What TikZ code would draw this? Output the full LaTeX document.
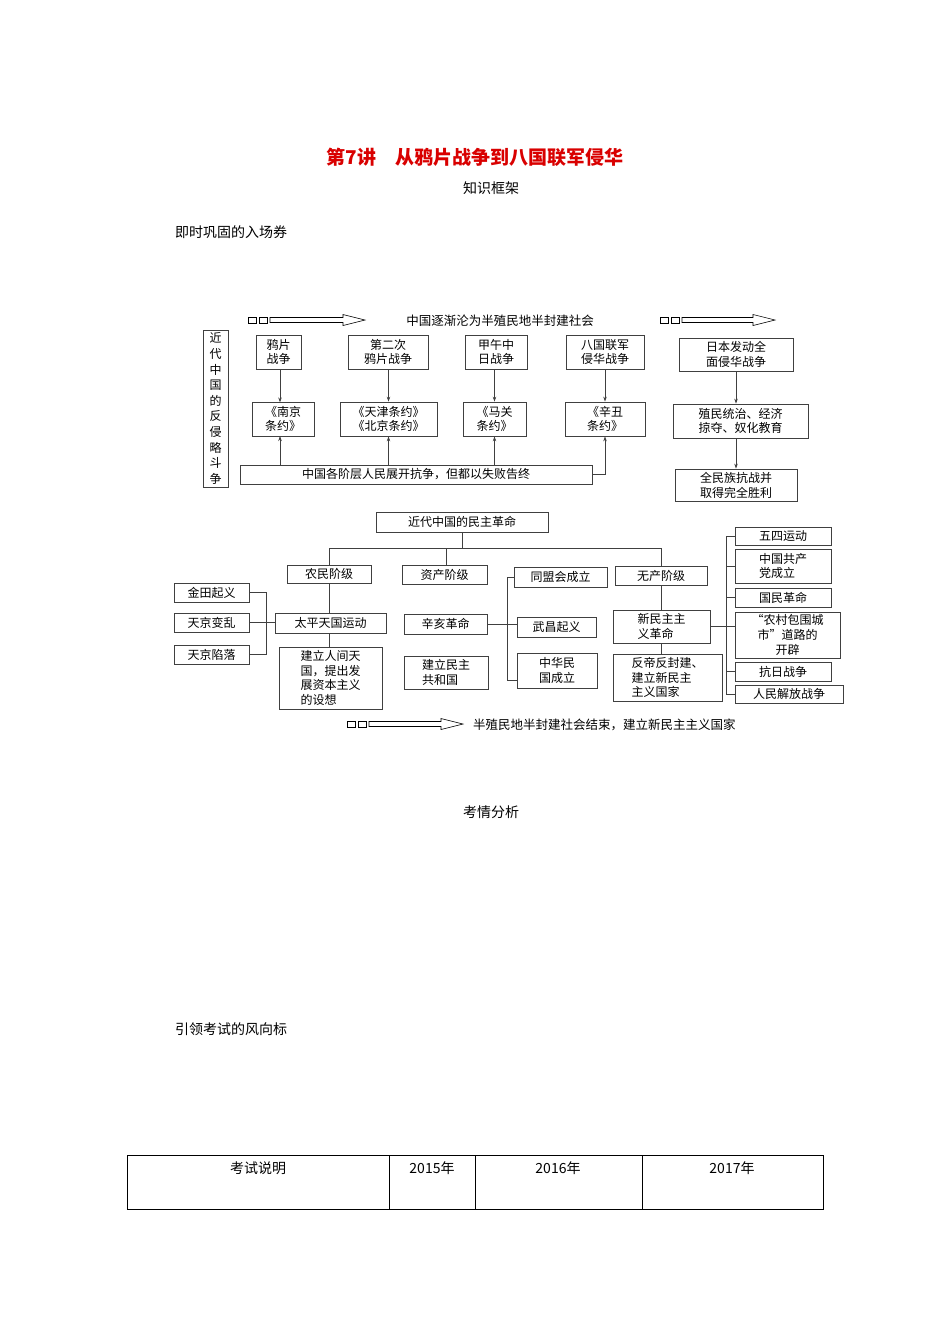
\documentclass[tikz,border=0pt]{standalone}
\usepackage{fontspec}
\setmainfont{Noto Sans CJK SC}
\usetikzlibrary{arrows.meta}
\tikzset{bx/.style={draw=black!75,line width=0.8pt,inner sep=1pt,align=center,font=\fontsize{12}{14.8}\selectfont},
lk/.style={draw=black!75,line width=0.7pt},
ar/.style={lk,-{Stealth[length=5pt,width=3.5pt]}},
tx/.style={inner sep=0pt,font=\fontsize{12.5}{14}\selectfont}}
\newcommand\bx[7][]{\node[bx,minimum width={(#4-#2)*1pt},minimum height={(#5-#3)*1pt},#1] (#6) at ({(#2+#4)/2},{(#3+#5)/2}) {#7};}
\newcommand\harrow[3]{%
\draw[line width=0.6pt] (#1,#3-3) rectangle (#1+8,#3+3);
\draw[line width=0.6pt] (#1+11,#3-3) rectangle (#1+19,#3+3);
\draw[line width=0.6pt] (#1+22,#3-2.5) -- (#2-22,#3-2.5) -- (#2-22,#3-5.5) -- (#2,#3) -- (#2-22,#3+5.5) -- (#2-22,#3+2.5) -- (#1+22,#3+2.5) -- cycle;}
\begin{document}
\begin{tikzpicture}[x=1pt,y=-1pt]
\useasboundingbox[fill=white] (0,0) rectangle (950,1344);
\node[font=\fontsize{19}{22}\selectfont\bfseries,text=red!85!black] (title) at (475,157) {第7讲　从鸦片战争到八国联军侵华};
\node[tx,font=\fontsize{14}{16}\selectfont] (k1) at (491,188) {知识框架};
\node[tx,anchor=west,font=\fontsize{14}{16}\selectfont] (k2) at (175,232) {即时巩固的入场券};
\node[tx,font=\fontsize{14}{16}\selectfont] (k3) at (491,812) {考情分析};
\node[tx,anchor=west,font=\fontsize{14}{16}\selectfont] (k4) at (175,1029) {引领考试的风向标};
% top diagram
\harrow{248}{365}{320}
\harrow{660}{775}{320}
\node[tx] (t1) at (500,321) {中国逐渐沦为半殖民地半封建社会};
\bx[font=\fontsize{12}{15.6}\selectfont]{203}{330}{228}{487}{left}{近\\代\\中\\国\\的\\反\\侵\\略\\斗\\争}
\bx{256}{335}{301}{369}{yp}{鸦片\\战争}
\bx{348}{335}{428}{369}{ey}{第二次\\鸦片战争}
\bx{465}{335}{527}{369}{jw}{甲午中\\日战争}
\bx{566}{335}{644}{369}{bg}{八国联军\\侵华战争}
\bx{679}{338}{793}{371}{jp}{日本发动全\\面侵华战争}
\bx{252}{402}{314}{436}{nj}{《南京\\条约》}
\bx{340}{402}{437}{436}{tj}{《天津条约》\\《北京条约》}
\bx{463}{402}{526}{436}{mg}{《马关\\条约》}
\bx{565}{402}{645}{436}{xc}{《辛丑\\条约》}
\bx{673}{404}{808}{438}{zm}{殖民统治、经济\\掠夺、奴化教育}
\bx{675}{469}{797}{501}{qm}{全民族抗战并\\取得完全胜利}
\bx{240}{465}{592}{484}{bar}{中国各阶层人民展开抗争，但都以失败告终}
\draw[ar] (yp.south -| nj.north) ++(-3,0) -- ++(0,33);
\draw[ar] (ey.south -| tj.north) -- (tj.north);
\draw[ar] (jw.south -| mg.north) -- (mg.north);
\draw[ar] (bg.south -| xc.north) -- (xc.north);
\draw[ar] (bar.north -| 280,0) -- (280,436);
\draw[ar] (bar.north -| tj.south) -- (tj.south);
\draw[ar] (bar.north -| mg.south) -- (mg.south);
\draw[ar] (bar.east) -| (xc.south);
\draw[ar] (jp.south) -- (jp.south |- zm.north);
\draw[ar] (zm.south -| qm.north) -- (qm.north);
% bottom diagram
\bx{376}{512}{548}{532}{root}{近代中国的民主革命}
\bx{287}{565}{371}{583}{nm}{农民阶级}
\bx{402}{565}{487}{584}{zc}{资产阶级}
\bx{615}{566}{707}{585}{wc}{无产阶级}
\draw[lk] (root.south) -- (462,548);
\draw[lk] (nm.north) -- (329,548) -- (661,548) -- (wc.north -| 661,0);
\draw[lk] (zc.north -| 446,0) -- (446,548);
\bx{174}{583}{249}{602}{jt}{金田起义}
\bx{174}{613}{249}{632}{tb}{天京变乱}
\bx{174}{645}{249}{664}{tx}{天京陷落}
\bx{275}{613}{386}{633}{tp}{太平天国运动}
\bx[align=left]{279}{647}{382}{709}{rj}{建立人间天\\国，提出发\\展资本主义\\的设想}
\draw[lk] (jt.east) -- (266,592.5) -- (266,654.5) -- (tx.east);
\draw[lk] (tb.east) -- (tb.east -| tp.west);
\draw[lk] (nm.south -| 329,0) -- (tp.north -| 329,0);
\draw[lk] (tp.south -| 329,0) -- (rj.north -| 329,0);
\bx{404}{614}{487}{634}{xh}{辛亥革命}
\bx[align=left]{404}{656}{488}{689}{gh}{建立民主\\共和国}
\bx{514}{567}{607}{587}{tm}{同盟会成立}
\bx{517}{617}{596}{637}{wq}{武昌起义}
\bx{517}{653}{597}{688}{zh}{中华民\\国成立}
\draw[lk] (tm.west) -- (507,577) -- (507,680) -- (zh.west |- 0,680);
\draw[lk] (xh.east) -- (xh.east -| wq.west);
\bx[align=left]{613}{610}{710}{643}{xm}{新民主主\\义革命}
\bx[align=left]{613}{654}{722}{701}{fd}{反帝反封建、\\建立新民主\\主义国家}
\draw[lk] (wc.south -| 661,0) -- (xm.north -| 661,0);
\draw[lk] (xm.south -| 661,0) -- (fd.north -| 661,0);
\bx{735}{527}{831}{545}{ws}{五四运动}
\bx[align=left]{735}{549}{831}{583}{gc}{中国共产\\党成立}
\bx{735}{588}{831}{607}{gm}{国民革命}
\bx{735}{612}{840}{658}{nc}{“农村包围城\\市”道路的\\开辟}
\bx{735}{662}{831}{681}{kr}{抗日战争}
\bx{735}{685}{843}{703}{jf}{人民解放战争}
\draw[lk] (ws.west) -- (726,536) -- (726,694) -- (jf.west);
\draw[lk] (gc.west) -- (726,566);
\draw[lk] (gm.west) -- (726,597.5);
\draw[lk] (kr.west) -- (726,671.5);
\draw[lk] (xm.east) -- (xm.east -| nc.west);
\harrow{347}{463}{724}
\node[tx,anchor=west] (t2) at (473,725) {半殖民地半封建社会结束，建立新民主主义国家};
% table
\draw[line width=0.7pt] (127,1155) rectangle (823,1209);
\draw[line width=0.7pt] (389,1155) -- (389,1209) (475,1155) -- (475,1209) (642,1155) -- (642,1209);
\node[tx,font=\fontsize{14}{16}\selectfont] (h1) at (258,1168) {考试说明};
\node[tx,font=\fontsize{14}{16}\selectfont] (h2) at (432,1168) {2015年};
\node[tx,font=\fontsize{14}{16}\selectfont] (h3) at (558,1168) {2016年};
\node[tx,font=\fontsize{14}{16}\selectfont] (h4) at (732,1168) {2017年};
\end{tikzpicture}
\end{document}
